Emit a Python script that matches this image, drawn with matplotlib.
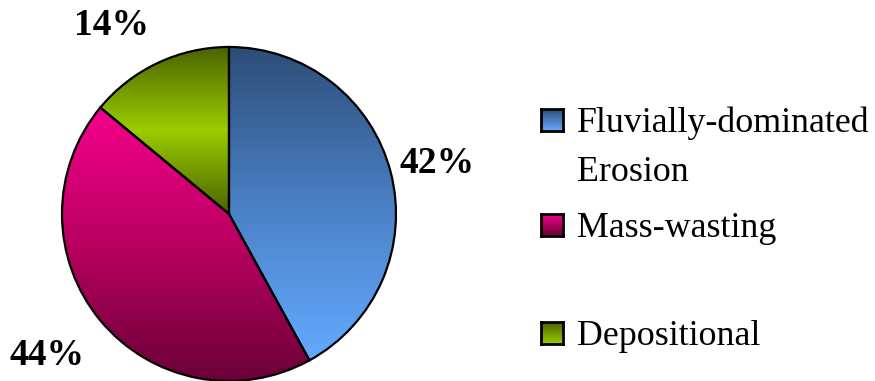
import numpy as np
import matplotlib.pyplot as plt
from matplotlib.colors import LinearSegmentedColormap

# Share of each process
categories = ["Fluvially-dominated\nErosion", "Mass-wasting", "Depositional"]
shares = [42, 44, 14]

# Gradient stops (top -> bottom) for each slice
gradients = [
    ["#2d4d77", "#4a80c4", "#63aaff"],
    ["#f5008c", "#b80060", "#680036"],
    ["#4a6200", "#9acd00", "#4a6200"],
]
# Legend swatch gradients (top -> bottom)
swatches = [
    ["#2d4d77", "#63aaff"],
    ["#f5008c", "#680036"],
    ["#4a6200", "#9acd00"],
]

fig = plt.figure(figsize=(8.75, 3.81), dpi=100)
W, H = 875, 381
cx, cy, r = 229, 167, 167
pad = 1.45
ax = fig.add_axes([(cx - r * pad) / W, (cy - r * pad) / H, 2 * r * pad / W, 2 * r * pad / H])

wedges, _ = ax.pie(shares, startangle=90, counterclock=False, radius=1,
                   wedgeprops=dict(facecolor="none", edgecolor="black", linewidth=1.6))
ax.set_xlim(-pad, pad)
ax.set_ylim(-pad, pad)
ax.set_aspect("equal")
ax.axis("off")

for w, stops in zip(wedges, gradients):
    cmap = LinearSegmentedColormap.from_list("g", stops)
    verts = w.get_path().vertices
    xs, ys = verts[:, 0], verts[:, 1]
    grad = np.linspace(0, 1, 256).reshape(-1, 1)
    im = ax.imshow(grad, cmap=cmap, aspect="auto", origin="upper",
                   extent=(xs.min(), xs.max(), ys.min(), ys.max()), zorder=0)
    im.set_clip_path(w)

# Percentage labels outside each slice (mid-angle plus a small nudge)
label_r = [1.28, 1.38, 1.33]
label_nudge = [-0.6, -1.8, 6.6]
start = 90
for s, lr, nd in zip(shares, label_r, label_nudge):
    span = s / sum(shares) * 360
    a = np.deg2rad(start - span / 2 + nd)
    start -= span
    ax.text(lr * np.cos(a), lr * np.sin(a), f"{s}%", ha="center", va="center",
            family="Liberation Serif", fontweight="bold", fontsize=27, clip_on=False)

# Legend
baselines = [132, 237, 345]
sq = 22
for lab, stops, yb in zip(categories, swatches, baselines):
    y0 = H - yb
    cax = fig.add_axes([541 / W, (y0 + 1) / H, sq / W, sq / H])
    cax.imshow(np.linspace(0, 1, 64).reshape(-1, 1),
               cmap=LinearSegmentedColormap.from_list("l", stops), aspect="auto")
    cax.set_xticks([])
    cax.set_yticks([])
    for sp in cax.spines.values():
        sp.set_linewidth(2)
    first, *rest = lab.split("\n")
    fig.text(577 / W, y0 / H, first, ha="left", va="baseline",
             family="Liberation Serif", fontsize=25.8)
    for k, line in enumerate(rest, 1):
        fig.text(577 / W, (y0 - 49 * k) / H, line, ha="left", va="baseline",
                 family="Liberation Serif", fontsize=25.8)

fig.savefig("out.png", dpi=100, facecolor="white")
